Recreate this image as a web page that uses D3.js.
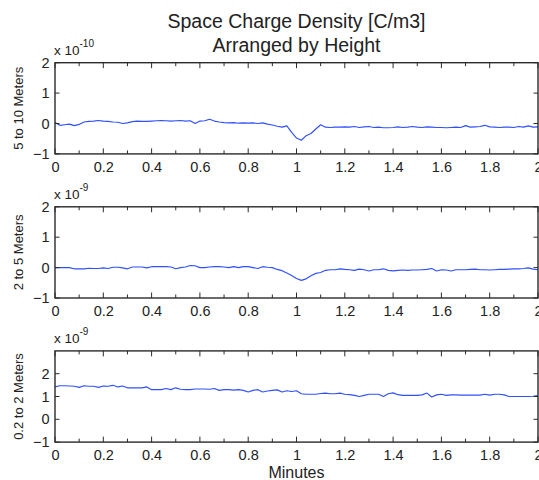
<!DOCTYPE html>
<html><head><meta charset="utf-8">
<script src="https://cdn.jsdelivr.net/npm/d3@7"></script>
<style>
body{margin:0;background:#fff}
svg{display:block}
text{font-family:"Liberation Sans",Arial,Helvetica,sans-serif;fill:#222}
</style>
</head><body>
<svg id="chart" width="539" height="480"></svg>
<script>
const titleLines = ["Space Charge Density [C/m3]", "Arranged by Height"];
const xLabel = "Minutes";
const panelLabels = ["5 to 10 Meters", "2 to 5 Meters", "0.2 to 2 Meters"];
const exponents = ["-10", "-9", "-9"];

const minutes = [0,0.02,0.04,0.06,0.08,0.1,0.12,0.14,0.16,0.18,0.2,0.22,0.24,0.26,0.28,0.3,0.32,0.34,0.36,0.38,
0.4,0.42,0.44,0.46,0.48,0.5,0.52,0.54,0.56,0.58,0.6,0.62,0.64,0.66,0.68,0.7,0.72,0.74,0.76,0.78,
0.8,0.82,0.84,0.86,0.88,0.9,0.92,0.94,0.96,0.98,1,1.02,1.04,1.06,1.08,1.1,1.12,1.14,1.16,1.18,
1.2,1.22,1.24,1.26,1.28,1.3,1.32,1.34,1.36,1.38,1.4,1.42,1.44,1.46,1.48,1.5,1.52,1.54,1.56,1.58,
1.6,1.62,1.64,1.66,1.68,1.7,1.72,1.74,1.76,1.78,1.8,1.82,1.84,1.86,1.88,1.9,1.92,1.94,1.96,1.98,2];

// 5 to 10 Meters, x 1e-10
const series5to10 = [0.03,-0.06,-0.04,-0.02,-0.07,-0.03,0.05,0.07,0.08,0.10,
0.08,0.07,0.05,0.04,0.00,0.02,0.06,0.08,0.07,0.07,
0.08,0.09,0.10,0.09,0.08,0.09,0.10,0.08,0.09,0.00,
0.08,0.09,0.14,0.08,0.05,0.03,0.02,0.03,0.01,0.02,
0.01,0.02,0.00,0.02,-0.02,-0.05,-0.09,-0.12,-0.08,-0.29,
-0.48,-0.55,-0.40,-0.33,-0.18,-0.04,-0.12,-0.13,-0.12,-0.12,
-0.11,-0.12,-0.10,-0.13,-0.11,-0.10,-0.13,-0.12,-0.14,-0.14,
-0.13,-0.11,-0.13,-0.12,-0.10,-0.12,-0.13,-0.11,-0.12,-0.13,
-0.13,-0.14,-0.13,-0.12,-0.13,-0.07,-0.12,-0.11,-0.10,-0.06,
-0.11,-0.12,-0.13,-0.12,-0.12,-0.13,-0.10,-0.12,-0.08,-0.12,-0.11];

// 2 to 5 Meters, x 1e-9
const series2to5 = [0.00,0.00,0.00,0.00,-0.04,-0.04,-0.04,-0.02,-0.03,-0.03,
-0.01,-0.03,0.01,0.01,-0.01,-0.04,0.02,0.02,0.02,-0.01,
0.03,0.03,0.03,0.03,0.02,-0.04,0.00,0.02,0.07,0.06,
0.00,0.00,0.02,0.03,0.03,0.02,0.00,0.03,0.00,0.03,
0.03,0.00,-0.03,0.03,0.01,0.00,-0.06,-0.10,-0.18,-0.26,
-0.36,-0.42,-0.37,-0.27,-0.19,-0.16,-0.09,-0.07,-0.07,-0.04,
-0.06,-0.07,-0.09,-0.05,-0.07,-0.11,-0.07,-0.07,-0.04,-0.09,
-0.11,-0.09,-0.08,-0.09,-0.08,-0.08,-0.07,-0.06,-0.03,-0.11,
-0.07,-0.08,-0.11,-0.07,-0.07,-0.07,-0.06,-0.05,-0.07,-0.07,
-0.08,-0.07,-0.06,-0.06,-0.05,-0.04,-0.04,-0.03,-0.01,-0.05,-0.07];

// 0.2 to 2 Meters, x 1e-9
const series02to2 = [1.42,1.47,1.47,1.46,1.45,1.40,1.47,1.45,1.45,1.40,
1.46,1.45,1.49,1.42,1.46,1.38,1.38,1.38,1.38,1.42,
1.30,1.30,1.30,1.35,1.30,1.38,1.32,1.30,1.30,1.33,
1.33,1.33,1.32,1.35,1.27,1.30,1.30,1.28,1.30,1.27,
1.20,1.27,1.30,1.20,1.24,1.27,1.29,1.20,1.25,1.22,
1.25,1.12,1.10,1.10,1.10,1.13,1.15,1.12,1.12,1.15,
1.10,1.08,1.05,1.00,1.05,1.10,1.10,1.10,1.00,1.12,
1.16,1.08,1.05,1.05,1.05,1.05,1.07,1.15,0.98,1.07,
1.10,1.05,1.07,1.07,1.06,1.06,1.06,1.06,1.06,1.10,
1.06,1.10,1.10,1.07,1.00,1.00,1.00,1.00,1.00,1.01,1.04];

const xTickValues = [0,0.1,0.2,0.3,0.4,0.5,0.6,0.7,0.8,0.9,1,1.1,1.2,1.3,1.4,1.5,1.6,1.7,1.8,1.9,2];
const xTickLabelValues = [0,0.2,0.4,0.6,0.8,1,1.2,1.4,1.6,1.8,2];
const yDomains = [[-1, 2], [-1, 2], [-1, 3]];
const yTickValues = [[-1, 0, 1, 2], [-1, 0, 1, 2], [-1, 0, 1, 2]];
const seriesList = [series5to10, series2to5, series02to2];

const svg = d3.select("#chart");
const left = 55, right = 538;
const panelTops = [62.7, 206.8, 350.9];
const panelH = 91.2;
const axisColor = "#2b2b2b";
const lineColor = "#3050ff";
const fs = 14.5;
const ff = '"Liberation Sans",Arial,sans-serif';

const x = d3.scaleLinear().domain([0, 2]).range([left, right]);

// title
svg.append("text").attr("x", 296.5).attr("y", 28).attr("text-anchor", "middle")
  .style("font-size", "19.5px").text(titleLines[0]);
svg.append("text").attr("x", 296.5).attr("y", 52).attr("text-anchor", "middle")
  .style("font-size", "19.5px").text(titleLines[1]);

seriesList.forEach((series, i) => {
  const top = panelTops[i], bottom = top + panelH;
  const y = d3.scaleLinear().domain(yDomains[i]).range([bottom, top]);
  const g = svg.append("g");

  // line
  const line = d3.line().x((d, k) => x(minutes[k])).y(d => y(d));
  g.append("path").datum(series).attr("d", line)
    .attr("fill", "none").attr("stroke", lineColor).attr("stroke-width", 1.15)
    .attr("stroke-linejoin", "round");

  // tick marks (inward) bottom & top
  xTickValues.forEach((v, k) => {
    const len = (k % 2 === 0) ? 5.5 : 3.5;
    g.append("line").attr("x1", x(v)).attr("x2", x(v)).attr("y1", bottom).attr("y2", bottom - len)
      .attr("stroke", axisColor).attr("stroke-width", 1);
    g.append("line").attr("x1", x(v)).attr("x2", x(v)).attr("y1", top).attr("y2", top + len)
      .attr("stroke", axisColor).attr("stroke-width", 1);
  });
  yTickValues[i].forEach(v => {
    g.append("line").attr("x1", left).attr("x2", left + 4.5).attr("y1", y(v)).attr("y2", y(v))
      .attr("stroke", axisColor).attr("stroke-width", 1);
    g.append("line").attr("x1", right).attr("x2", right - 4.5).attr("y1", y(v)).attr("y2", y(v))
      .attr("stroke", axisColor).attr("stroke-width", 1);
  });

  // box
  g.append("rect").attr("x", left).attr("y", top).attr("width", right - left).attr("height", panelH)
    .attr("fill", "none").attr("stroke", axisColor).attr("stroke-width", 1.4);

  // x tick labels
  const xa = g.append("g").attr("transform", `translate(0,${bottom})`)
    .call(d3.axisBottom(x).tickValues(xTickLabelValues).tickSize(0).tickPadding(7.5)
      .tickFormat(d => d3.format("~g")(d)));
  xa.select(".domain").remove();
  xa.selectAll("text").style("font-size", fs + "px").attr("fill", "#222").style("font-family", ff);

  // y tick labels
  const ya = g.append("g").attr("transform", `translate(${left},0)`)
    .call(d3.axisLeft(y).tickValues(yTickValues[i]).tickSize(0).tickPadding(5.5)
      .tickFormat(d3.format("d")));
  ya.select(".domain").remove();
  ya.selectAll("text").style("font-size", fs + "px").attr("fill", "#222").style("font-family", ff);

  // exponent label
  const ex = g.append("text").attr("x", left - 1).attr("y", top - 8).style("font-size", "13.5px");
  ex.append("tspan").text("x 10");
  ex.append("tspan").attr("dy", -8).style("font-size", "10px").text(exponents[i]);

  // panel label
  g.append("text").attr("transform", `translate(18.3,${(top + bottom) / 2}) rotate(-90)`)
    .attr("text-anchor", "middle").attr("dy", "0.35em").style("font-size", "13px")
    .text(panelLabels[i]);
});

svg.append("text").attr("x", 296.5).attr("y", 478).attr("text-anchor", "middle")
  .style("font-size", "16px").text(xLabel);
</script>
</body></html>
